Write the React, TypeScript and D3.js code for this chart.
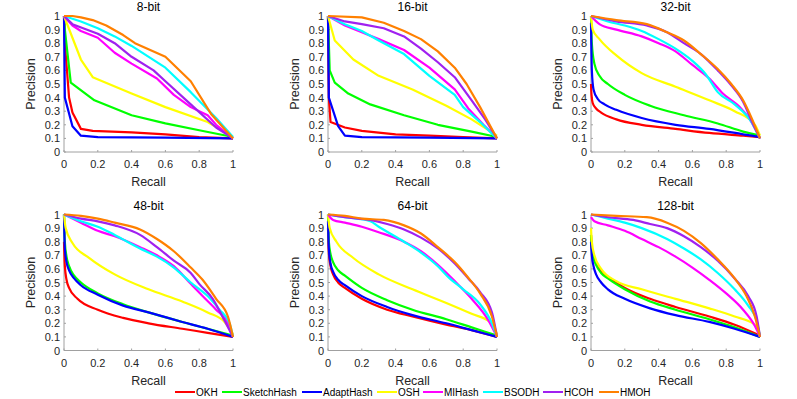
import React from 'react';
import * as d3 from 'd3';

type Pt = [number, number];

const methods = ['OKH', 'SketchHash', 'AdaptHash', 'OSH', 'MIHash', 'BSODH', 'HCOH', 'HMOH'];
const colors = ['#ff0000', '#00ff00', '#0000ff', '#ffff00', '#ff00ff', '#00ffff', '#a020f0', '#ff8000'];
const titles = ['8-bit', '16-bit', '32-bit', '48-bit', '64-bit', '128-bit'];
const ticks = [0, 0.2, 0.4, 0.6, 0.8, 1];
const yTicks = [0, 0.1, 0.2, 0.3, 0.4, 0.5, 0.6, 0.7, 0.8, 0.9, 1];

// recall / precision pairs, one list per method (same order as `methods`)
const bit8: Pt[][] = [
  [[0, 1], [0.005, 0.8], [0.03, 0.4], [0.05, 0.29], [0.1, 0.17], [0.17, 0.155], [0.4, 0.145], [0.6, 0.13], [0.8, 0.11], [1, 0.1]],
  [[0, 1], [0.005, 0.9], [0.04, 0.51], [0.18, 0.38], [0.4, 0.27], [0.6, 0.21], [0.8, 0.16], [1, 0.11]],
  [[0, 1], [0.005, 0.4], [0.05, 0.19], [0.1, 0.12], [0.2, 0.11], [0.6, 0.105], [1, 0.1]],
  [[0, 1], [0.1, 0.68], [0.17, 0.55], [0.4, 0.43], [0.6, 0.33], [0.85, 0.22], [1, 0.11]],
  [[0, 1], [0.05, 0.93], [0.1, 0.89], [0.2, 0.84], [0.3, 0.73], [0.4, 0.65], [0.55, 0.54], [0.65, 0.42], [0.75, 0.33], [0.85, 0.27], [0.9, 0.2], [1, 0.1]],
  [[0, 1], [0.1, 0.96], [0.2, 0.91], [0.3, 0.85], [0.4, 0.78], [0.6, 0.62], [0.75, 0.44], [0.9, 0.25], [1, 0.11]],
  [[0, 1], [0.05, 0.94], [0.2, 0.87], [0.3, 0.8], [0.4, 0.7], [0.53, 0.6], [0.6, 0.52], [0.75, 0.35], [0.9, 0.18], [1, 0.1]],
  [[0, 1], [0.05, 1], [0.1, 0.99], [0.17, 0.97], [0.25, 0.93], [0.35, 0.86], [0.42, 0.8], [0.6, 0.7], [0.75, 0.52], [0.87, 0.28], [1, 0.1]],
];

const bit16: Pt[][] = [
  [[0, 1], [0.005, 0.4], [0.015, 0.22], [0.1, 0.18], [0.2, 0.155], [0.4, 0.13], [0.6, 0.12], [0.8, 0.11], [1, 0.1]],
  [[0, 1], [0.01, 0.6], [0.04, 0.51], [0.12, 0.43], [0.25, 0.35], [0.45, 0.27], [0.65, 0.2], [0.85, 0.15], [1, 0.11]],
  [[0, 1], [0.005, 0.4], [0.06, 0.19], [0.1, 0.12], [0.2, 0.11], [0.6, 0.105], [1, 0.1]],
  [[0, 1], [0.04, 0.82], [0.15, 0.68], [0.3, 0.56], [0.5, 0.46], [0.7, 0.34], [0.85, 0.24], [1, 0.12]],
  [[0, 1], [0.1, 0.93], [0.2, 0.88], [0.3, 0.83], [0.45, 0.75], [0.6, 0.62], [0.75, 0.46], [0.83, 0.32], [0.92, 0.2], [1, 0.1]],
  [[0, 1], [0.1, 0.94], [0.2, 0.89], [0.3, 0.82], [0.45, 0.72], [0.6, 0.56], [0.75, 0.42], [0.8, 0.33], [0.9, 0.22], [1, 0.1]],
  [[0, 1], [0.1, 0.96], [0.2, 0.94], [0.33, 0.91], [0.45, 0.85], [0.55, 0.76], [0.65, 0.66], [0.75, 0.55], [0.85, 0.38], [0.93, 0.24], [1, 0.1]],
  [[0, 1], [0.2, 0.99], [0.33, 0.95], [0.45, 0.89], [0.55, 0.83], [0.65, 0.74], [0.75, 0.62], [0.82, 0.5], [0.9, 0.33], [1, 0.1]],
];

const bit32: Pt[][] = [
  [[0, 0.5], [0.003, 0.42], [0.01, 0.36], [0.03, 0.32], [0.06, 0.29], [0.15, 0.24], [0.3, 0.2], [0.5, 0.17], [0.7, 0.14], [0.9, 0.12], [1, 0.11]],
  [[0, 1], [0.005, 0.8], [0.02, 0.65], [0.05, 0.56], [0.1, 0.5], [0.2, 0.42], [0.35, 0.34], [0.55, 0.27], [0.75, 0.21], [0.9, 0.15], [1, 0.12]],
  [[0, 0.95], [0.005, 0.6], [0.015, 0.46], [0.04, 0.39], [0.08, 0.35], [0.15, 0.31], [0.3, 0.25], [0.5, 0.2], [0.7, 0.17], [0.9, 0.13], [1, 0.11]],
  [[0, 1], [0.01, 0.9], [0.05, 0.83], [0.15, 0.71], [0.3, 0.58], [0.5, 0.48], [0.7, 0.38], [0.85, 0.3], [0.97, 0.2], [1, 0.12]],
  [[0, 1], [0.05, 0.94], [0.15, 0.9], [0.3, 0.85], [0.4, 0.8], [0.5, 0.74], [0.6, 0.64], [0.7, 0.54], [0.78, 0.43], [0.88, 0.33], [0.95, 0.22], [1, 0.1]],
  [[0, 1], [0.1, 0.96], [0.2, 0.93], [0.3, 0.89], [0.4, 0.83], [0.5, 0.76], [0.6, 0.67], [0.68, 0.57], [0.75, 0.44], [0.85, 0.35], [0.95, 0.22], [1, 0.1]],
  [[0, 1], [0.15, 0.96], [0.33, 0.93], [0.45, 0.88], [0.55, 0.8], [0.65, 0.72], [0.75, 0.6], [0.83, 0.49], [0.9, 0.37], [0.95, 0.23], [1, 0.1]],
  [[0, 1], [0.15, 0.97], [0.33, 0.94], [0.45, 0.88], [0.55, 0.82], [0.65, 0.72], [0.75, 0.61], [0.83, 0.5], [0.9, 0.38], [0.95, 0.25], [1, 0.1]],
];

const bit48: Pt[][] = [
  [[0, 0.8], [0.005, 0.62], [0.015, 0.52], [0.03, 0.46], [0.08, 0.38], [0.2, 0.3], [0.35, 0.24], [0.5, 0.2], [0.7, 0.16], [0.85, 0.13], [1, 0.1]],
  [[0, 1], [0.005, 0.8], [0.015, 0.69], [0.03, 0.62], [0.06, 0.55], [0.1, 0.5], [0.2, 0.42], [0.35, 0.34], [0.5, 0.28], [0.7, 0.21], [0.85, 0.16], [1, 0.11]],
  [[0, 1], [0.005, 0.75], [0.015, 0.65], [0.03, 0.59], [0.06, 0.53], [0.1, 0.48], [0.2, 0.41], [0.35, 0.33], [0.5, 0.28], [0.7, 0.21], [0.85, 0.16], [1, 0.1]],
  [[0, 1], [0.01, 0.9], [0.05, 0.79], [0.15, 0.68], [0.3, 0.56], [0.5, 0.45], [0.7, 0.36], [0.85, 0.28], [0.95, 0.21], [1, 0.12]],
  [[0, 1], [0.1, 0.94], [0.2, 0.88], [0.3, 0.84], [0.45, 0.76], [0.55, 0.7], [0.65, 0.62], [0.75, 0.49], [0.82, 0.4], [0.9, 0.3], [0.97, 0.2], [1, 0.1]],
  [[0, 1], [0.1, 0.95], [0.2, 0.91], [0.3, 0.85], [0.45, 0.75], [0.55, 0.69], [0.65, 0.61], [0.75, 0.5], [0.85, 0.4], [0.92, 0.3], [0.98, 0.2], [1, 0.1]],
  [[0, 1], [0.1, 0.97], [0.2, 0.95], [0.3, 0.92], [0.45, 0.85], [0.55, 0.76], [0.65, 0.66], [0.75, 0.57], [0.8, 0.49], [0.88, 0.38], [0.95, 0.22], [1, 0.1]],
  [[0, 1], [0.1, 0.99], [0.2, 0.97], [0.3, 0.94], [0.45, 0.89], [0.55, 0.82], [0.65, 0.73], [0.75, 0.61], [0.82, 0.52], [0.9, 0.38], [0.97, 0.25], [1, 0.1]],
];

const bit64: Pt[][] = [
  [[0, 0.9], [0.005, 0.72], [0.015, 0.62], [0.03, 0.56], [0.06, 0.5], [0.1, 0.46], [0.2, 0.38], [0.35, 0.3], [0.5, 0.25], [0.7, 0.19], [0.85, 0.15], [1, 0.1]],
  [[0, 1], [0.005, 0.8], [0.015, 0.71], [0.03, 0.65], [0.06, 0.59], [0.1, 0.55], [0.2, 0.46], [0.35, 0.37], [0.5, 0.3], [0.7, 0.23], [0.85, 0.17], [1, 0.11]],
  [[0, 0.95], [0.005, 0.75], [0.015, 0.64], [0.03, 0.58], [0.06, 0.52], [0.1, 0.48], [0.2, 0.4], [0.35, 0.32], [0.5, 0.26], [0.7, 0.2], [0.85, 0.15], [1, 0.1]],
  [[0, 1], [0.01, 0.9], [0.05, 0.8], [0.15, 0.68], [0.3, 0.56], [0.5, 0.45], [0.7, 0.35], [0.85, 0.27], [0.97, 0.2], [1, 0.12]],
  [[0, 1], [0.03, 0.96], [0.1, 0.94], [0.2, 0.91], [0.3, 0.87], [0.45, 0.8], [0.55, 0.73], [0.65, 0.63], [0.75, 0.51], [0.85, 0.38], [0.95, 0.22], [1, 0.1]],
  [[0, 1], [0.1, 0.98], [0.25, 0.95], [0.3, 0.91], [0.45, 0.8], [0.55, 0.72], [0.65, 0.62], [0.72, 0.53], [0.8, 0.45], [0.9, 0.34], [0.97, 0.2], [1, 0.1]],
  [[0, 1], [0.1, 0.98], [0.25, 0.96], [0.35, 0.93], [0.45, 0.89], [0.55, 0.83], [0.65, 0.75], [0.75, 0.64], [0.83, 0.53], [0.9, 0.43], [0.97, 0.28], [1, 0.1]],
  [[0, 1], [0.1, 0.99], [0.2, 0.97], [0.33, 0.96], [0.45, 0.92], [0.55, 0.86], [0.65, 0.76], [0.75, 0.65], [0.82, 0.55], [0.9, 0.42], [0.97, 0.25], [1, 0.1]],
];

const bit128: Pt[][] = [
  [[0, 0.85], [0.005, 0.75], [0.015, 0.69], [0.03, 0.64], [0.06, 0.58], [0.1, 0.54], [0.2, 0.46], [0.35, 0.38], [0.5, 0.32], [0.7, 0.25], [0.85, 0.19], [1, 0.11]],
  [[0, 0.85], [0.005, 0.75], [0.015, 0.68], [0.03, 0.63], [0.06, 0.57], [0.1, 0.53], [0.2, 0.45], [0.35, 0.36], [0.5, 0.3], [0.7, 0.23], [0.85, 0.17], [1, 0.1]],
  [[0, 0.8], [0.005, 0.7], [0.015, 0.62], [0.03, 0.56], [0.06, 0.5], [0.1, 0.45], [0.2, 0.38], [0.35, 0.31], [0.5, 0.26], [0.7, 0.21], [0.85, 0.16], [1, 0.1]],
  [[0, 0.9], [0.005, 0.8], [0.02, 0.7], [0.06, 0.6], [0.15, 0.51], [0.3, 0.45], [0.5, 0.38], [0.7, 0.31], [0.85, 0.25], [0.97, 0.19], [1, 0.12]],
  [[0, 0.98], [0.02, 0.95], [0.1, 0.92], [0.2, 0.88], [0.3, 0.82], [0.4, 0.76], [0.5, 0.69], [0.6, 0.61], [0.7, 0.52], [0.8, 0.42], [0.9, 0.3], [0.97, 0.18], [1, 0.1]],
  [[0, 1], [0.1, 0.97], [0.2, 0.94], [0.3, 0.9], [0.45, 0.82], [0.55, 0.75], [0.65, 0.67], [0.75, 0.57], [0.85, 0.45], [0.93, 0.33], [0.98, 0.22], [1, 0.1]],
  [[0, 1], [0.1, 0.98], [0.25, 0.96], [0.35, 0.93], [0.45, 0.9], [0.55, 0.84], [0.65, 0.76], [0.75, 0.66], [0.85, 0.53], [0.93, 0.4], [0.98, 0.25], [1, 0.1]],
  [[0, 1], [0.15, 0.99], [0.33, 0.98], [0.45, 0.94], [0.55, 0.88], [0.65, 0.79], [0.75, 0.67], [0.85, 0.53], [0.92, 0.4], [0.97, 0.25], [1, 0.1]],
];

const panels = [bit8, bit16, bit32, bit48, bit64, bit128];
// the short codes were plotted as straight segments, the longer ones came out smooth
const smooth = [false, false, true, true, true, true];

const W = 797;
const H = 399;
const colX = [64, 328, 591];
const rowY = [16, 214.5];
const pw = 169;
const ph = 136;
const font = '"Liberation Sans", Arial, sans-serif';
const axisColor = '#a0a0a0';
const textColor = '#262626';

function Panel({ data, title, x0, y0, curved }: { data: Pt[][]; title: string; x0: number; y0: number; curved: boolean }) {
  const x = d3.scaleLinear().domain([0, 1]).range([x0, x0 + pw]);
  const y = d3.scaleLinear().domain([0, 1]).range([y0 + ph, y0]);
  const line = d3
    .line<Pt>()
    .x((d) => x(d[0]))
    .y((d) => y(d[1]))
    .curve(curved ? d3.curveMonotoneX : d3.curveLinear);
  return (
    <g>
      <text x={x(0.5)} y={y0 - 5} textAnchor="middle" fontSize={12} fill="#000">{title}</text>
      {/* axes, box off */}
      <line x1={x(0)} x2={x(1)} y1={y(0)} y2={y(0)} stroke={axisColor} strokeWidth={1} />
      <line x1={x(0)} x2={x(0)} y1={y(0)} y2={y(1)} stroke={axisColor} strokeWidth={1} />
      {ticks.map((t) => (
        <g key={'x' + t}>
          <line x1={x(t)} x2={x(t)} y1={y(0)} y2={y(0) - 2} stroke={axisColor} />
          <text x={x(t)} y={y(0) + 16} textAnchor="middle" fontSize={11} fill={textColor}>{t}</text>
        </g>
      ))}
      {yTicks.map((t) => (
        <g key={'y' + t}>
          <line x1={x(0)} x2={x(0) + 2} y1={y(t)} y2={y(t)} stroke={axisColor} />
          <text x={x(0) - 4} y={y(t) + 4} textAnchor="end" fontSize={11} fill={textColor}>{t}</text>
        </g>
      ))}
      <text x={x(0.5)} y={y(0) + 34} textAnchor="middle" fontSize={12.5} fill={textColor}>Recall</text>
      <text transform={`translate(${x0 - 29},${y(0.5)}) rotate(-90)`} textAnchor="middle" fontSize={12.5} fill={textColor}>Precision</text>
      {data.map((s, i) => (
        <path key={i} d={line(s) ?? ''} fill="none" stroke={colors[i]} strokeWidth={2.2} strokeLinejoin="round" />
      ))}
    </g>
  );
}

const legendX = [175, 222, 302, 377, 423, 483, 543, 599];

export default function App() {
  return (
    <svg width={W} height={H} style={{ position: 'absolute', left: 0, top: 0, fontFamily: font }}>
      <rect width={W} height={H} fill="#fff" />
      {panels.map((p, i) => (
        <Panel key={i} data={p} title={titles[i]} x0={colX[i % 3]} y0={rowY[Math.floor(i / 3)]} curved={smooth[i]} />
      ))}
      <g>
        {methods.map((m, i) => (
          <g key={m}>
            <line x1={legendX[i]} x2={legendX[i] + 20} y1={392} y2={392} stroke={colors[i]} strokeWidth={2} />
            <text x={legendX[i] + 21} y={395.5} fontSize={10} fill="#000">{m}</text>
          </g>
        ))}
      </g>
    </svg>
  );
}
